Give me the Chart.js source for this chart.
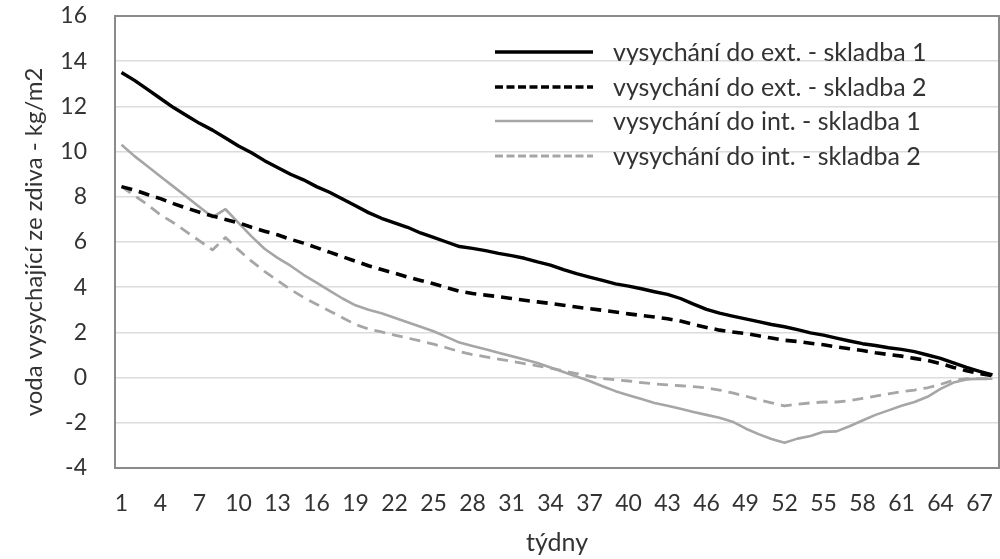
<!DOCTYPE html>
<html lang="cs">
<head>
<meta charset="utf-8">
<title>Vysychání zdiva</title>
<script src="https://cdn.jsdelivr.net/npm/chart.js@4.4.1/dist/chart.umd.min.js"></script>
<style>
  html, body { margin: 0; padding: 0; background: #ffffff; }
  #wrap { width: 1000px; height: 559px; }
</style>
</head>
<body>
<div id="wrap"><canvas id="chart" width="1000" height="559"></canvas></div>
<script>
// Týdny (kategorie osy x)
const weeks = [
  '1','2','3','4','5','6','7','8','9','10','11','12','13','14','15','16','17',
  '18','19','20','21','22','23','24','25','26','27','28','29','30','31','32','33','34',
  '35','36','37','38','39','40','41','42','43','44','45','46','47','48','49','50','51',
  '52','53','54','55','56','57','58','59','60','61','62','63','64','65','66','67','68'
];

// Voda vysychající ze zdiva [kg/m2]
const extSkladba1 = [
  13.5, 13.15, 12.75, 12.35, 11.95, 11.6, 11.25, 10.95, 10.6, 10.25, 9.95, 9.6, 9.3, 9.0, 8.75, 8.45, 8.2,
  7.9, 7.6, 7.3, 7.05, 6.85, 6.65, 6.4, 6.2, 6.0, 5.8, 5.72, 5.62, 5.5, 5.4, 5.28, 5.12, 4.98,
  4.78, 4.6, 4.45, 4.3, 4.15, 4.05, 3.93, 3.8, 3.68, 3.5, 3.25, 3.02, 2.85, 2.72, 2.6, 2.48, 2.35,
  2.25, 2.12, 1.98, 1.88, 1.75, 1.62, 1.5, 1.42, 1.32, 1.25, 1.15, 1.0, 0.85, 0.65, 0.45, 0.28, 0.12
];
const extSkladba2 = [
  8.45, 8.3, 8.1, 7.92, 7.7, 7.5, 7.32, 7.15, 7.0, 6.85, 6.65, 6.48, 6.32, 6.12, 5.95, 5.75, 5.55,
  5.35, 5.15, 4.95, 4.78, 4.62, 4.45, 4.3, 4.15, 3.98, 3.82, 3.72, 3.65, 3.58, 3.5, 3.42, 3.35, 3.28,
  3.2, 3.12, 3.05, 2.98, 2.9, 2.82, 2.75, 2.68, 2.6, 2.5, 2.35, 2.22, 2.1, 2.02, 1.95, 1.85, 1.75,
  1.65, 1.6, 1.52, 1.45, 1.36, 1.28, 1.2, 1.1, 1.02, 0.95, 0.85, 0.76, 0.62, 0.45, 0.3, 0.18, 0.08
];
const intSkladba1 = [
  10.3, 9.8, 9.35, 8.9, 8.45, 8.0, 7.55, 7.1, 7.45, 6.85, 6.25, 5.7, 5.3, 4.95, 4.55, 4.2, 3.85,
  3.5, 3.2, 3.0, 2.85, 2.65, 2.45, 2.25, 2.05, 1.8, 1.55, 1.4, 1.25, 1.1, 0.95, 0.8, 0.65, 0.45,
  0.25, 0.05, -0.15, -0.38, -0.6, -0.78, -0.95, -1.12, -1.25, -1.38, -1.52, -1.65, -1.78, -1.95, -2.25, -2.5, -2.72,
  -2.88, -2.7, -2.58, -2.4, -2.38, -2.15, -1.9, -1.65, -1.45, -1.25, -1.08, -0.85, -0.5, -0.22, -0.08, -0.05, -0.05
];
const intSkladba2 = [
  8.45, 8.05, 7.65, 7.2, 6.85, 6.45, 6.05, 5.65, 6.2, 5.65, 5.15, 4.7, 4.3, 3.9, 3.55, 3.25, 2.95,
  2.65, 2.35, 2.15, 2.02, 1.88, 1.75, 1.62, 1.48, 1.32, 1.15, 1.02, 0.92, 0.82, 0.72, 0.62, 0.52, 0.42,
  0.3, 0.18, 0.06, -0.04, -0.1, -0.15, -0.22, -0.28, -0.32, -0.36, -0.4, -0.45, -0.55, -0.68, -0.82, -0.98, -1.12,
  -1.25, -1.18, -1.12, -1.08, -1.08, -1.02, -0.92, -0.82, -0.72, -0.62, -0.55, -0.45, -0.3, -0.12, -0.05, -0.05, -0.05
];

// Popisky řad a osy y
const seriesNames = [
  'vysychání do ext. - skladba 1',
  'vysychání do ext. - skladba 2',
  'vysychání do int. - skladba 1',
  'vysychání do int. - skladba 2'
];
const yTicks = { min: -4, max: 16, step: 2 };
const xTitle = 'týdny';
const yTitle = 'voda vysychající ze zdiva - kg/m2';

const TEXT = '#333333';
const GRAY = '#a6a6a6';
const FONT = 'Lato, "Open Sans", sans-serif';

// Rámeček oblasti grafu
const frame = {
  id: 'frame',
  beforeDatasetsDraw(chart) {
    const { ctx, chartArea: a } = chart;
    ctx.save();
    ctx.strokeStyle = '#8a8a8a';
    ctx.lineWidth = 2;
    ctx.strokeRect(a.left, a.top, a.right - a.left, a.bottom - a.top);
    ctx.restore();
  }
};

// Legenda uvnitř oblasti grafu (vpravo nahoře)
const insideLegend = {
  id: 'insideLegend',
  afterDatasetsDraw(chart) {
    const { ctx, chartArea: a } = chart;
    const x0 = a.left + 380, x1 = a.left + 478, tx = a.left + 498;
    const rows = [36, 71, 105, 140];
    ctx.save();
    ctx.font = '25px ' + FONT;
    ctx.textBaseline = 'middle';
    ctx.textAlign = 'left';
    chart.data.datasets.forEach((ds, i) => {
      const y = a.top + rows[i];
      ctx.beginPath();
      ctx.strokeStyle = ds.borderColor;
      ctx.lineWidth = ds.borderWidth;
      ctx.setLineDash(ds.borderDash.length ? [8, 3.5] : []);
      ctx.moveTo(x0, y);
      ctx.lineTo(x1, y);
      ctx.stroke();
      ctx.setLineDash([]);
      ctx.fillStyle = TEXT;
      ctx.fillText(ds.label, tx, y + 1);
    });
    ctx.restore();
  }
};

new Chart(document.getElementById('chart'), {
  type: 'line',
  data: {
    labels: weeks,
    datasets: [
      { label: seriesNames[0], data: extSkladba1, borderColor: '#000000', borderWidth: 3.4, borderDash: [] },
      { label: seriesNames[1], data: extSkladba2, borderColor: '#000000', borderWidth: 3.6, borderDash: [11, 7] },
      { label: seriesNames[2], data: intSkladba1, borderColor: GRAY, borderWidth: 2.6, borderDash: [] },
      { label: seriesNames[3], data: intSkladba2, borderColor: GRAY, borderWidth: 2.8, borderDash: [11, 7] }
    ]
  },
  options: {
    responsive: false,
    animation: false,
    devicePixelRatio: 1,
    layout: { padding: { left: 0, right: 1, top: 16, bottom: 0 } },
    elements: {
      point: { radius: 0, hoverRadius: 0 },
      line: { tension: 0, borderCapStyle: 'butt', borderJoinStyle: 'round' }
    },
    plugins: {
      legend: { display: false },
      tooltip: { enabled: false }
    },
    scales: {
      x: {
        type: 'category',
        offset: true,
        grid: { display: false, drawTicks: false },
        border: { display: false },
        ticks: {
          autoSkip: false,
          maxRotation: 0,
          minRotation: 0,
          padding: 22,
          color: TEXT,
          font: { family: FONT, size: 23 },
          callback(value, index) { return index % 3 === 0 ? this.getLabelForValue(value) : ''; }
        },
        title: {
          display: true,
          text: xTitle,
          color: TEXT,
          font: { family: FONT, size: 25 },
          padding: { top: 0, bottom: 1 }
        },
        afterFit(scale) {
          scale.height = 91;
          scale.paddingLeft = 0;
          scale.paddingRight = 0;
        }
      },
      y: {
        min: yTicks.min,
        max: yTicks.max,
        grid: { color: '#dcdcdc', lineWidth: 1.5, drawTicks: false },
        border: { display: false },
        ticks: {
          stepSize: yTicks.step,
          padding: 28,
          color: TEXT,
          font: { family: FONT, size: 23 }
        },
        title: {
          display: true,
          text: yTitle,
          color: TEXT,
          font: { family: FONT, size: 24 },
          padding: { top: 20, bottom: 0 }
        },
        afterFit(scale) {
          scale.width = 115;
          scale.paddingTop = 0;
          scale.paddingBottom = 0;
        }
      }
    }
  },
  plugins: [frame, insideLegend]
});
</script>
</body>
</html>
